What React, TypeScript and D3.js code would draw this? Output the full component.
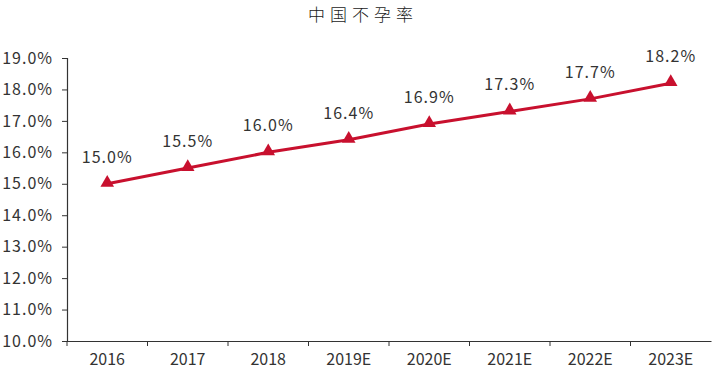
import React, { useEffect, useRef } from 'react'
import * as d3 from 'd3'

const years = ['2016', '2017', '2018', '2019E', '2020E', '2021E', '2022E', '2023E']
const rates = [15.0, 15.5, 16.0, 16.4, 16.9, 17.3, 17.7, 18.2]
const yTicks = [10, 11, 12, 13, 14, 15, 16, 17, 18, 19]
const title = '中国不孕率'

const W = 721
const H = 375
const FONT = '"Noto Sans CJK SC", "Noto Sans", sans-serif'

const App: React.FC = () => {
  const ref = useRef<SVGSVGElement>(null)

  useEffect(() => {
    if (!ref.current) return
    const svg = d3.select(ref.current)
    svg.selectAll('*').remove()

    const left = 67
    const right = 711
    const top = 58
    const bottom = 341

    const x = d3.scaleBand<string>().domain(years).range([left, right])
    const y = d3.scaleLinear().domain([10, 19]).range([bottom, top])

    svg
      .append('text')
      .attr('x', 363)
      .attr('y', 21)
      .attr('text-anchor', 'middle')
      .attr('font-family', FONT)
      .attr('font-size', 17)
      .attr('font-weight', 300)
      .attr('letter-spacing', 5)
      .attr('fill', '#222')
      .text(title)

    const yAxis = svg
      .append('g')
      .attr('transform', `translate(${left},0)`)
      .call(
        d3
          .axisLeft(y)
          .tickValues(yTicks)
          .tickSize(5)
          .tickPadding(9)
          .tickFormat(d => `${(d as number).toFixed(1)}%`)
      )
    yAxis.select('.domain').attr('stroke', '#333').attr('stroke-width', 1.2)
    yAxis.selectAll('.tick line').attr('stroke', '#333')
    yAxis
      .selectAll('.tick text')
      .attr('font-family', FONT)
      .attr('font-size', 16)
      .attr('letter-spacing', 1)
      .attr('fill', '#333')

    const xAxis = svg
      .append('g')
      .attr('transform', `translate(0,${bottom})`)
      .call(d3.axisBottom(x).tickSize(0).tickPadding(13))
    xAxis.select('.domain').attr('stroke', '#333').attr('stroke-width', 1.2)
    xAxis
      .selectAll('.tick text')
      .attr('font-family', FONT)
      .attr('font-size', 16)
      .attr('fill', '#333')

    // tick marks on band boundaries
    svg
      .append('g')
      .selectAll('line')
      .data(years)
      .enter()
      .append('line')
      .attr('x1', d => x(d)!)
      .attr('x2', d => x(d)!)
      .attr('y1', bottom)
      .attr('y2', bottom + 5)
      .attr('stroke', '#333')

    const cx = (d: string) => x(d)! + x.bandwidth() / 2

    const line = d3
      .line<number>()
      .x((_, i) => cx(years[i]))
      .y(d => y(d))

    svg
      .append('path')
      .attr('d', line(rates))
      .attr('fill', 'none')
      .attr('stroke', '#C8102E')
      .attr('stroke-width', 3)

    const tri = d3.symbol().type(d3.symbolTriangle).size(80)
    svg
      .append('g')
      .selectAll('path')
      .data(rates)
      .enter()
      .append('path')
      .attr('d', tri)
      .attr('transform', (d, i) => `translate(${cx(years[i])},${y(d) - 1})`)
      .attr('fill', '#C8102E')

    svg
      .append('g')
      .selectAll('text')
      .data(rates)
      .enter()
      .append('text')
      .attr('x', (_, i) => cx(years[i]))
      .attr('y', d => y(d) - 21)
      .attr('text-anchor', 'middle')
      .attr('font-family', FONT)
      .attr('font-size', 16)
      .attr('letter-spacing', 1)
      .attr('fill', '#333')
      .text(d => `${d.toFixed(1)}%`)
  }, [])

  return (
    <svg
      ref={ref}
      width={W}
      height={H}
      style={{ position: 'absolute', left: 0, top: 0, background: '#fff' }}
    />
  )
}

export default App
